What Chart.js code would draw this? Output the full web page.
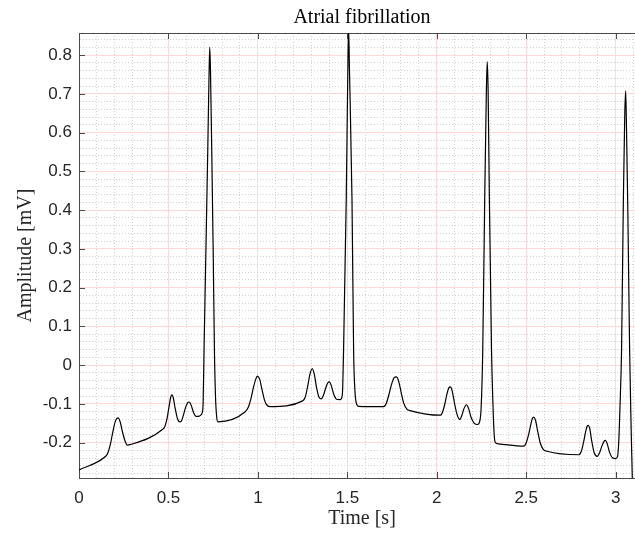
<!DOCTYPE html>
<html><head><meta charset="utf-8">
<script src="https://cdn.jsdelivr.net/npm/chart.js@4/dist/chart.umd.min.js"></script>
<style>html,body{margin:0;padding:0;background:#fff;overflow:hidden;width:635px;height:533px;} canvas{display:block;}</style>
</head><body>
<canvas id="c" width="645" height="533"></canvas>
<script>
const chartTitle = 'Atrial fibrillation';
const xLabel = 'Time [s]';
const yLabel = 'Amplitude [mV]';

const timeS = [
0.000,0.149,0.160,0.175,0.190,0.203,0.218,0.230,0.243,0.257,0.270,0.285,
0.466,0.480,0.492,0.503,0.512,0.519,0.527,0.537,0.550,0.562,0.572,0.583,0.595,0.607,0.616,0.627,0.640,0.655,0.668,0.682,
0.689,0.694,0.699,0.710,0.720,0.727,0.731,0.735,0.742,0.750,0.757,0.763,0.770,0.776,
0.929,0.945,0.960,0.975,0.988,0.998,1.010,1.023,1.037,1.052,1.069,
1.250,1.265,1.278,1.290,1.304,1.316,1.328,1.342,1.354,1.366,1.380,1.390,1.399,1.410,1.424,1.440,1.457,
1.468,1.474,1.479,1.494,1.502,1.507,1.512,1.526,1.535,1.543,1.552,1.563,
1.703,1.718,1.733,1.748,1.762,1.774,1.786,1.800,1.815,1.834,1.850,
2.020,2.033,2.046,2.058,2.068,2.076,2.086,2.098,2.112,2.128,2.140,2.152,2.166,2.178,2.192,2.210,2.228,
2.240,2.248,2.257,2.268,2.277,2.282,2.287,2.294,2.306,2.314,2.321,2.328,2.345,
2.486,2.500,2.514,2.527,2.535,2.542,2.552,2.564,2.578,2.595,2.617,
2.794,2.808,2.820,2.832,2.841,2.847,2.855,2.866,2.880,2.897,2.910,2.922,2.934,2.943,2.953,2.966,2.982,2.999,
3.010,3.017,3.024,3.033,3.043,3.051,3.056,3.061,3.068,3.078,3.086,3.093,3.098
];
const amplitudeMV = [
-0.270,-0.235,-0.228,-0.205,-0.170,-0.145,-0.136,-0.146,-0.172,-0.195,-0.206,-0.205,
-0.166,-0.158,-0.138,-0.108,-0.084,-0.076,-0.084,-0.110,-0.137,-0.146,-0.144,-0.130,-0.110,-0.097,-0.095,-0.103,-0.122,-0.132,-0.132,-0.128,
-0.122,-0.095,0.040,0.310,0.560,0.750,0.820,0.760,0.555,0.300,0.040,-0.080,-0.135,-0.146,
-0.120,-0.110,-0.088,-0.058,-0.036,-0.028,-0.036,-0.063,-0.090,-0.104,-0.107,
-0.092,-0.082,-0.055,-0.025,-0.009,-0.025,-0.058,-0.083,-0.087,-0.078,-0.058,-0.046,-0.043,-0.052,-0.075,-0.088,-0.089,
-0.085,-0.060,0.040,0.430,0.730,0.870,0.760,0.430,0.040,-0.070,-0.100,-0.106,
-0.107,-0.098,-0.075,-0.048,-0.032,-0.030,-0.040,-0.068,-0.098,-0.114,-0.117,
-0.129,-0.120,-0.098,-0.072,-0.058,-0.056,-0.066,-0.095,-0.125,-0.140,-0.130,-0.112,-0.102,-0.112,-0.135,-0.150,-0.153,
-0.145,-0.110,0.040,0.430,0.700,0.783,0.710,0.430,0.040,-0.100,-0.180,-0.200,-0.203,
-0.209,-0.200,-0.178,-0.150,-0.137,-0.134,-0.142,-0.170,-0.200,-0.217,-0.222,
-0.231,-0.222,-0.200,-0.172,-0.157,-0.155,-0.163,-0.195,-0.226,-0.235,-0.226,-0.210,-0.197,-0.194,-0.203,-0.225,-0.239,-0.241,
-0.236,-0.200,-0.110,0.040,0.426,0.650,0.708,0.600,0.400,0.040,-0.150,-0.291,-0.330
];

const xTicksMajor = [0, 0.5, 1, 1.5, 2, 2.5, 3];
const xTickLabels = ['0', '0.5', '1', '1.5', '2', '2.5', '3'];
const yTicksMajor = [-0.2, -0.1, 0, 0.1, 0.2, 0.3, 0.4, 0.5, 0.6, 0.7, 0.8];
const yTickLabels = ['-0.2', '-0.1', '0', '0.1', '0.2', '0.3', '0.4', '0.5', '0.6', '0.7', '0.8'];
const xRange = [0, 3.164];
const yRange = [-0.291, 0.857];
const xMinorStep = 0.1;
const yMinorStep = 0.02;

const MAJOR_GRID = '#ffd9d9';
const MINOR_GRID = '#d2d2d2';
const AXIS_COLOR = '#4a4a4a';
const TEXT_COLOR = '#262626';
const SERIF = "'Liberation Serif', 'Times New Roman', serif";
const SANS = "'Liberation Sans', Arial, sans-serif";

const idxOf = (list, v) => list.findIndex(t => Math.abs(t - v) < 1e-6);

const points = timeS.map((t, i) => ({ x: t, y: amplitudeMV[i] }));

const innerTicks = {
  id: 'innerTicks',
  beforeDatasetsDraw(chart) {
    const { ctx, chartArea: a, scales: { x, y } } = chart;
    ctx.save();
    ctx.strokeStyle = AXIS_COLOR;
    ctx.lineWidth = 1;
    ctx.beginPath();
    xTicksMajor.forEach(v => {
      const px = Math.round(x.getPixelForValue(v)) + 0.5;
      ctx.moveTo(px, a.bottom); ctx.lineTo(px, a.bottom - 6);
      ctx.moveTo(px, a.top); ctx.lineTo(px, a.top + 6);
    });
    yTicksMajor.forEach(v => {
      const py = Math.round(y.getPixelForValue(v)) + 0.5;
      ctx.moveTo(a.left, py); ctx.lineTo(a.left + 6, py);
    });
    ctx.stroke();
    ctx.restore();
  }
};

new Chart(document.getElementById('c'), {
  type: 'line',
  data: {
    datasets: [{
      data: points,
      borderColor: '#000',
      borderWidth: 1.2,
      pointRadius: 0,
      fill: false,
      cubicInterpolationMode: 'monotone'
    }]
  },
  options: {
    responsive: false,
    animation: false,
    layout: { padding: 0 },
    plugins: { legend: { display: false }, tooltip: { enabled: false }, title: { display: false } },
    scales: {
      x: {
        type: 'linear', position: 'bottom',
        min: xRange[0], max: xRange[1],
        afterFit: s => { s.height = 55; },
        ticks: {
          stepSize: xMinorStep, autoSkip: false, maxRotation: 0, minRotation: 0, includeBounds: false,
          padding: 10, color: TEXT_COLOR, font: { family: SANS, size: 17 },
          callback: v => { const i = idxOf(xTicksMajor, v); return i >= 0 ? xTickLabels[i] : ''; }
        },
        grid: {
          drawTicks: false, lineWidth: 1,
          color: c => (c.tick && idxOf(xTicksMajor, c.tick.value) >= 0) ? MAJOR_GRID : MINOR_GRID
        },
        border: {
          display: true, color: AXIS_COLOR, width: 1,
          dash: c => (c.tick && idxOf(xTicksMajor, c.tick.value) < 0) ? [1, 2] : []
        },
        title: { display: true, text: xLabel, color: TEXT_COLOR, font: { family: SERIF, size: 20 }, padding: { top: 0, bottom: 2 } }
      },
      xt: {
        type: 'linear', position: 'top',
        min: xRange[0], max: xRange[1],
        afterFit: s => { s.height = 33; },
        ticks: { display: false },
        grid: { display: true, drawOnChartArea: false, drawTicks: false },
        border: { display: true, color: AXIS_COLOR, width: 1 },
        title: { display: true, text: chartTitle, color: '#000', font: { family: SERIF, size: 20 }, padding: { top: 6, bottom: 0 } }
      },
      y: {
        type: 'linear', position: 'left',
        min: yRange[0], max: yRange[1],
        afterFit: s => { s.width = 79; },
        ticks: {
          stepSize: yMinorStep, autoSkip: false, includeBounds: false,
          padding: 7, color: TEXT_COLOR, font: { family: SANS, size: 17 },
          callback: v => { const i = idxOf(yTicksMajor, v); return i >= 0 ? yTickLabels[i] : ''; }
        },
        grid: {
          drawTicks: false, lineWidth: 1,
          color: c => (c.tick && idxOf(yTicksMajor, c.tick.value) >= 0) ? MAJOR_GRID : MINOR_GRID
        },
        border: {
          display: true, color: AXIS_COLOR, width: 1,
          dash: c => (c.tick && idxOf(yTicksMajor, c.tick.value) < 0) ? [1, 2] : []
        },
        title: { display: true, text: yLabel, color: TEXT_COLOR, font: { family: SERIF, size: 20 }, padding: { top: 14, bottom: 0 } }
      }
    }
  },
  plugins: [innerTicks]
});
</script>
</body></html>
